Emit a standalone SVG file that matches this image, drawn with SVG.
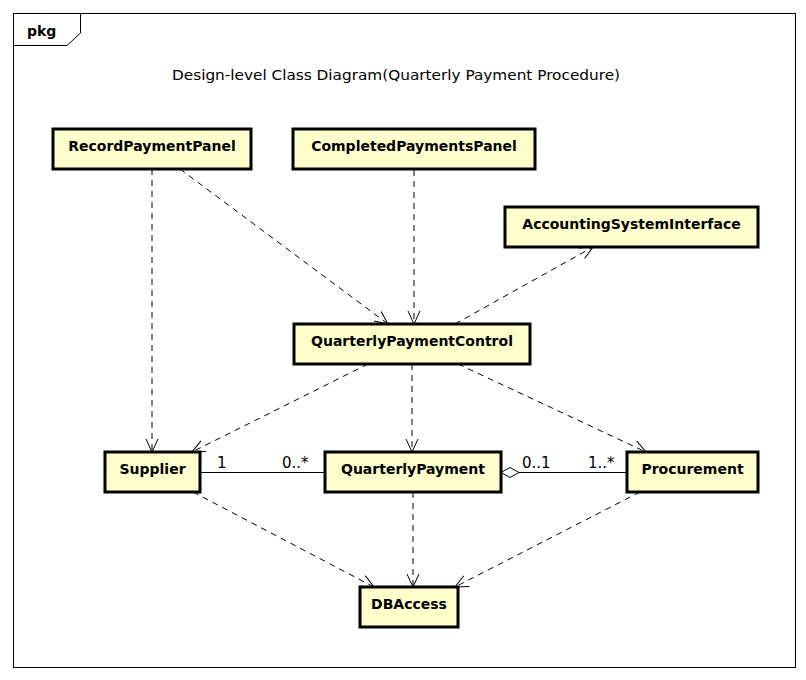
<svg xmlns="http://www.w3.org/2000/svg" width="806" height="680" viewBox="0 0 806 680">
<style>
.node rect{fill:#ffffcc;stroke:#000;stroke-width:3}
.node text{font-family:"DejaVu Sans",sans-serif;font-weight:bold;font-size:14px;text-anchor:middle;fill:#000}
.dep{fill:none;stroke:#000;stroke-width:1;stroke-dasharray:6,5;marker-end:url(#open)}
.assoc{fill:none;stroke:#000;stroke-width:1}
.mult{font-family:"DejaVu Sans",sans-serif;font-size:15px;fill:#000}
</style>
<defs>
<marker id="open" markerUnits="userSpaceOnUse" markerWidth="16" markerHeight="16" viewBox="-14 -8 16 16" refX="0" refY="0" orient="auto">
<path d="M-13,-6 L0,0 L-13,6" fill="none" stroke="#000" stroke-width="1"/>
</marker>
</defs>
<rect x="0" y="0" width="806" height="680" fill="#fff"/>
<g id="frame">
<rect x="13.5" y="13.5" width="782" height="654" fill="none" stroke="#000" stroke-width="1"/>
<path d="M13.5,45.5 L67,45.5 L80.5,33 L80.5,13.5" fill="none" stroke="#000" stroke-width="1"/>
<text x="27" y="36" font-family="DejaVu Sans,sans-serif" font-weight="bold" font-size="14">pkg</text>
<text x="172" y="80" font-family="DejaVu Sans,sans-serif" font-size="14.5" textLength="448" lengthAdjust="spacingAndGlyphs">Design-level Class Diagram(Quarterly Payment Procedure)</text>
</g>
<g id="connectors">
<path class="dep" d="M152,169 L152,452"/>
<path class="dep" d="M180,169 L388,324"/>
<path class="dep" d="M414,170 L414,324"/>
<path class="dep" d="M455,324 L593,247"/>
<path class="dep" d="M368,364 L192,452"/>
<path class="dep" d="M412,364 L412,452"/>
<path class="dep" d="M458,364 L646,452"/>
<path class="dep" d="M193,492 L374,587"/>
<path class="dep" d="M413,492 L413,587"/>
<path class="dep" d="M640,492 L455,587"/>
<path class="assoc" d="M200,472.5 L325,472.5"/>
<path class="assoc" d="M519,472.5 L627,472.5"/>
<path d="M501,472.5 L510,467.5 L519,472.5 L510,477.5 Z" fill="#fff" stroke="#000" stroke-width="1"/>
<text class="mult" x="217" y="468">1</text>
<text class="mult" x="282" y="468">0..*</text>
<text class="mult" x="522" y="468">0..1</text>
<text class="mult" x="588" y="468">1..*</text>
</g>
<g id="RecordPaymentPanel" class="node"><rect x="53" y="129" width="198" height="40"/><text x="152" y="151">RecordPaymentPanel</text></g>
<g id="CompletedPaymentsPanel" class="node"><rect x="293" y="129" width="242" height="40"/><text x="414" y="151">CompletedPaymentsPanel</text></g>
<g id="AccountingSystemInterface" class="node"><rect x="505" y="207" width="253" height="40"/><text x="631.5" y="229">AccountingSystemInterface</text></g>
<g id="QuarterlyPaymentControl" class="node"><rect x="294" y="324" width="236" height="40"/><text x="412" y="346">QuarterlyPaymentControl</text></g>
<g id="Supplier" class="node"><rect x="105" y="452" width="95" height="40"/><text x="152.5" y="474">Supplier</text></g>
<g id="QuarterlyPayment" class="node"><rect x="325" y="452" width="176" height="40"/><text x="413" y="474">QuarterlyPayment</text></g>
<g id="Procurement" class="node"><rect x="627" y="452" width="131" height="40"/><text x="692.5" y="474">Procurement</text></g>
<g id="DBAccess" class="node"><rect x="360" y="587" width="98" height="40"/><text x="409" y="609">DBAccess</text></g>
</svg>
